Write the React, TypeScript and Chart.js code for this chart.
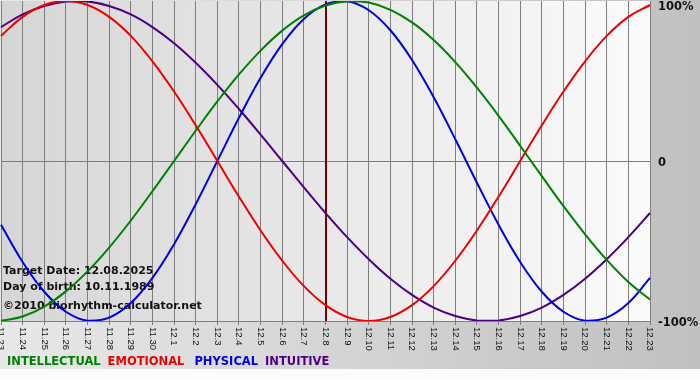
import React, { useEffect, useRef } from "react";
import { Chart, registerables } from "chart.js";

Chart.register(...registerables);

const dayLabels: string[] = [
  "11.23", "11.24", "11.25", "11.26", "11.27", "11.28", "11.29", "11.30",
  "12.1", "12.2", "12.3", "12.4", "12.5", "12.6", "12.7", "12.8", "12.9",
  "12.10", "12.11", "12.12", "12.13", "12.14", "12.15", "12.16", "12.17",
  "12.18", "12.19", "12.20", "12.21", "12.22", "12.23",
];

const intellectual: number[] = [
  -99.9, -97.2, -91.0, -81.5, -69.0, -54.1, -37.2, -18.9, 0, 18.9, 37.2,
  54.1, 69.0, 81.5, 91.0, 97.2, 99.9, 99.0, 94.5, 86.6, 75.6, 61.8, 45.8,
  28.2, 9.5, -9.5, -28.2, -45.8, -61.8, -75.6, -86.6,
];

const emotional: number[] = [
  78.2, 90.1, 97.5, 100, 97.5, 90.1, 78.2, 62.3, 43.4, 22.3, 0, -22.3,
  -43.4, -62.3, -78.2, -90.1, -97.5, -100, -97.5, -90.1, -78.2, -62.3,
  -43.4, -22.3, 0, 22.3, 43.4, 62.3, 78.2, 90.1, 97.5,
];

const physical: number[] = [
  -39.8, -63.1, -81.7, -94.2, -99.8, -97.9, -88.8, -73.1, -52.0, -27.0, 0,
  27.0, 52.0, 73.1, 88.8, 97.9, 99.8, 94.2, 81.7, 63.1, 39.8, 13.6, -13.6,
  -39.8, -63.1, -81.7, -94.2, -99.8, -97.9, -88.8, -73.1,
];

const intuitive: number[] = [
  83.7, 91.6, 96.9, 99.7, 99.7, 96.9, 91.6, 83.7, 73.6, 61.4, 47.6, 32.5,
  16.5, 0, -16.5, -32.5, -47.6, -61.4, -73.6, -83.7, -91.6, -96.9, -99.7,
  -99.7, -96.9, -91.6, -83.7, -73.6, -61.4, -47.6, -32.5,
];

const seriesNames: string[] = ["INTELLECTUAL", "EMOTIONAL", "PHYSICAL", "INTUITIVE"];
const seriesColors: string[] = ["#008000", "#ee0000", "#0000dd", "#4b0082"];
const yTickLabels: { value: number; text: string }[] = [
  { value: 100, text: "100%" },
  { value: 0, text: "0" },
  { value: -100, text: "-100%" },
];
const targetDay = "12.8";
const infoLines: string[] = [
  "Target Date: 12.08.2025",
  "Day of birth: 10.11.1989",
  "©2010 biorhythm-calculator.net",
];

const decorPlugin = {
  id: "decor",
  beforeDraw(chart: any) {
    const { ctx, width, height, chartArea } = chart;
    ctx.save();
    const outer = ctx.createLinearGradient(0, 0, width, 0);
    outer.addColorStop(0, "#e8e8e8");
    outer.addColorStop(1, "#c0c0c0");
    ctx.fillStyle = outer;
    ctx.fillRect(0, 0, width, 369);
    ctx.fillStyle = "#fbfbfb";
    ctx.fillRect(0, 369, width, height - 369);
    const inner = ctx.createLinearGradient(chartArea.left, 0, chartArea.right, 0);
    inner.addColorStop(0, "#d6d6d6");
    inner.addColorStop(1, "#fbfbfb");
    ctx.fillStyle = inner;
    ctx.fillRect(chartArea.left, chartArea.top, chartArea.right - chartArea.left, chartArea.bottom - chartArea.top);
    ctx.restore();
  },
  beforeDatasetsDraw(chart: any) {
    const { ctx, chartArea, scales } = chart;
    ctx.save();
    const tx = Math.round(scales.x.getPixelForValue(dayLabels.indexOf(targetDay)));
    ctx.strokeStyle = "#7a0000";
    ctx.lineWidth = 2;
    ctx.beginPath();
    ctx.moveTo(tx, chartArea.top);
    ctx.lineTo(tx, chartArea.bottom);
    ctx.stroke();
    ctx.fillStyle = "#111";
    ctx.font = "bold 11px 'DejaVu Sans'";
    ctx.textBaseline = "middle";
    ctx.textAlign = "left";
    ctx.fillText(infoLines[0], 3, 271);
    ctx.fillText(infoLines[1], 3, 287);
    ctx.fillText(infoLines[2], 3, 306);
    ctx.restore();
  },
  afterDraw(chart: any) {
    const { ctx, chartArea, scales } = chart;
    ctx.save();
    // x labels rotated clockwise
    ctx.fillStyle = "#111";
    ctx.font = "9.5px 'Liberation Sans'";
    ctx.textAlign = "left";
    ctx.textBaseline = "middle";
    dayLabels.forEach((lab, i) => {
      const x = scales.x.getPixelForValue(i);
      ctx.save();
      ctx.translate(x, chartArea.bottom + 6);
      ctx.rotate(Math.PI / 2);
      ctx.fillText(lab, 0, 0);
      ctx.restore();
    });
    // y labels on right
    ctx.font = "bold 11.5px 'DejaVu Sans'";
    ctx.fillStyle = "#111";
    yTickLabels.forEach((t) => {
      const y = Math.max(scales.y.getPixelForValue(t.value) + 2, 7);
      ctx.fillText(t.text, chartArea.right + 8, y);
    });
    // legend
    ctx.font = "bold 11.5px 'DejaVu Sans'";
    let lx = 7;
    seriesNames.forEach((name, i) => {
      ctx.fillStyle = seriesColors[i];
      ctx.fillText(name, lx, 362);
      lx += ctx.measureText(name).width + (i === 1 ? 10 : 7);
    });
    ctx.restore();
  },
};

export default function App() {
  const canvasRef = useRef<HTMLCanvasElement | null>(null);

  useEffect(() => {
    document.body.style.margin = "0";
    const canvas = canvasRef.current;
    if (!canvas) return;
    const seriesData = [intellectual, emotional, physical, intuitive];
    const chart = new Chart(canvas, {
      type: "line",
      data: {
        labels: dayLabels,
        datasets: seriesNames.map((name, i) => ({
          label: name,
          data: seriesData[i],
          borderColor: seriesColors[i],
          borderWidth: 2,
          pointRadius: 0,
          tension: 0.4,
          fill: false,
        })),
      },
      options: {
        responsive: false,
        animation: false,
        devicePixelRatio: 1,
        layout: { padding: { left: 1, right: 50, top: 1, bottom: 55 } },
        plugins: {
          legend: { display: false },
          tooltip: { enabled: false },
          title: { display: false },
        },
        scales: {
          x: {
            type: "category",
            offset: false,
            grid: {
              color: "#7e7e7e",
              lineWidth: 1,
              drawTicks: true,
              tickLength: 4,
            },
            border: { display: true, color: "#7e7e7e" },
            ticks: { display: false },
          },
          y: {
            position: "right",
            min: -100,
            max: 100,
            grid: {
              drawTicks: false,
              color: (c: any) => (c.tick && c.tick.value === 0 ? "#7e7e7e" : "rgba(0,0,0,0)"),
            },
            border: { display: true, color: "#7e7e7e" },
            ticks: { display: false, stepSize: 100 },
          },
        },
      },
      plugins: [decorPlugin],
    });
    return () => chart.destroy();
  }, []);

  return (
    <div style={{ position: "fixed", left: 0, top: 0, width: 700, height: 380 }}>
      <canvas ref={canvasRef} width={700} height={380} />
    </div>
  );
}
